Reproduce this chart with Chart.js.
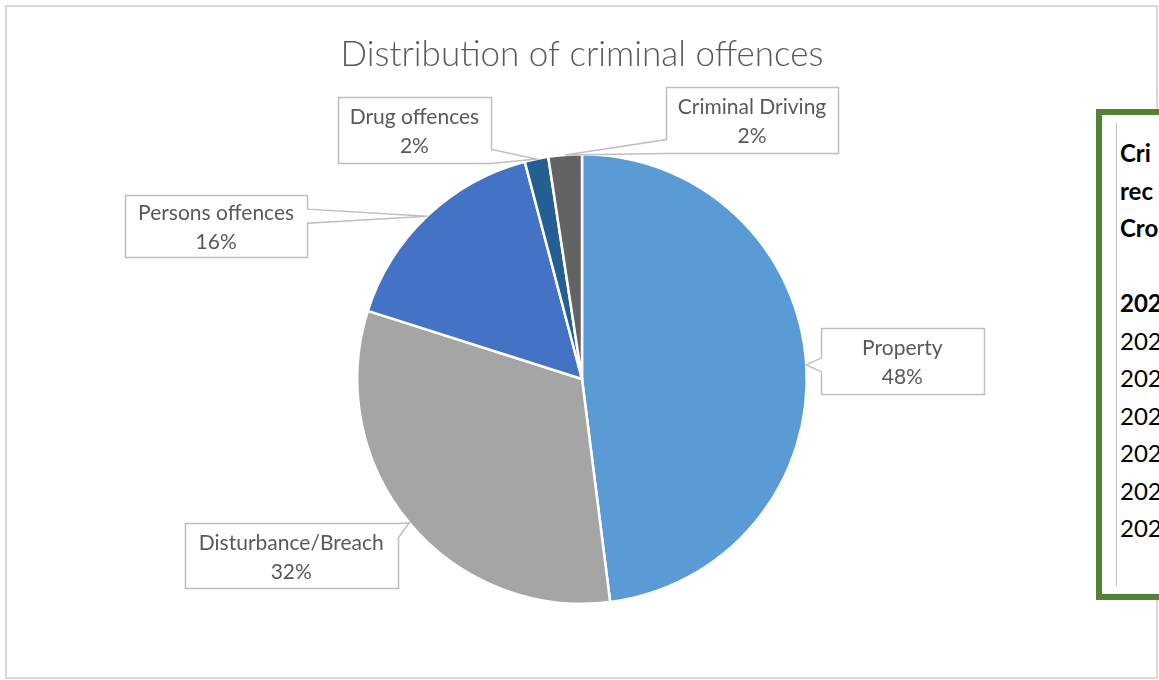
<!DOCTYPE html>
<html>
<head>
<meta charset="utf-8">
<script src="https://cdn.jsdelivr.net/npm/chart.js@4/dist/chart.umd.min.js"></script>
<style>
  html, body { margin: 0; padding: 0; background: #fff; overflow: hidden; width: 1159px; height: 680px; }
  #frame { position: absolute; left: 5px; top: 5px; width: 1153px; height: 674px; border: 2px solid #D9D9D9; box-sizing: border-box; }
  #myChart { position: absolute; left: 0; top: 0; }
  #sidebox { position: absolute; left: 1096px; top: 109px; width: 140px; height: 491px; border: 6px solid #548235; box-sizing: border-box; background: #fff; }
  #sidebox .inner { position: absolute; left: 14px; top: 8px; bottom: 8px; border-left: 1px solid #BFBFBF; padding-left: 3px; padding-top: 11px;
    font-family: Lato, "Open Sans", sans-serif; font-size: 24px; line-height: 37.5px; color: #000; white-space: nowrap; }
  #sidebox b { font-weight: 700; }
</style>
</head>
<body>
<div id="frame"></div>
<canvas id="myChart" width="1159" height="680"></canvas>
<div id="sidebox">
  <div class="inner">
    <b>Cri</b><br><b>rec</b><br><b>Cro</b><br>&nbsp;<br><b>202</b><br>202<br>202<br>202<br>202<br>202<br>202
  </div>
</div>
<script>
"use strict";

var categories = ["Property", "Disturbance/Breach", "Persons offences", "Drug offences", "Criminal Driving"];
var shares = [48.0, 31.9, 16.0, 1.7, 2.4];
var colours = ["#5B9BD5", "#A5A5A5", "#4472C4", "#255E91", "#636363"];

// callout boxes: offset of box centre from the slice edge point, and box size
var calloutBoxes = [
    { dx: 96, dy: -4, w: 163, h: 66 },
    { dx: -118, dy: 33, w: 213, h: 65 },
    { dx: -211, dy: 10, w: 182, h: 62 },
    { dx: -122, dy: -29, w: 153, h: 66 },
    { dx: 187, dy: -35, w: 172, h: 66 }
];

function clamp(v, lo, hi) {
    return Math.max(lo, Math.min(hi, v));
}

function calloutPath(ctx, x0, y0, x1, y1, tx, ty) {
    var half = 7;
    var side = tx > x1 ? "r" : (tx < x0 ? "l" : (ty < y0 ? "t" : "b"));
    var c;
    ctx.beginPath();
    ctx.moveTo(x0, y0);
    if (side === "t") {
        c = clamp(tx, x0 + half, x1 - half);
        ctx.lineTo(c - half, y0); ctx.lineTo(tx, ty); ctx.lineTo(c + half, y0);
    }
    ctx.lineTo(x1, y0);
    if (side === "r") {
        c = clamp(ty, y0 + half, y1 - half);
        ctx.lineTo(x1, c - half); ctx.lineTo(tx, ty); ctx.lineTo(x1, c + half);
    }
    ctx.lineTo(x1, y1);
    if (side === "b") {
        c = clamp(tx, x0 + half, x1 - half);
        ctx.lineTo(c + half, y1); ctx.lineTo(tx, ty); ctx.lineTo(c - half, y1);
    }
    ctx.lineTo(x0, y1);
    if (side === "l") {
        c = clamp(ty, y0 + half, y1 - half);
        ctx.lineTo(x0, c + half); ctx.lineTo(tx, ty); ctx.lineTo(x0, c - half);
    }
    ctx.closePath();
}

var calloutPlugin = {
    id: "callouts",
    afterDatasetsDraw: function(chart) {
        var ctx = chart.ctx;
        var meta = chart.getDatasetMeta(0);
        var values = chart.data.datasets[0].data;
        var total = values.reduce(function(a, b) { return a + b; }, 0);
        ctx.save();
        meta.data.forEach(function(arc, i) {
            var p = arc.getProps(["x", "y", "startAngle", "endAngle", "outerRadius"], true);
            var mid = (p.startAngle + p.endAngle) / 2;
            var ax = p.x + Math.cos(mid) * p.outerRadius;
            var ay = p.y + Math.sin(mid) * p.outerRadius;
            var b = calloutBoxes[i];
            var cx = ax + b.dx, cy = ay + b.dy;
            var x0 = Math.round(cx - b.w / 2) + 0.5, y0 = Math.round(cy - b.h / 2) + 0.5;
            calloutPath(ctx, x0, y0, x0 + b.w, y0 + b.h, ax, ay);
            ctx.fillStyle = "#FFFFFF";
            ctx.fill();
            ctx.lineWidth = 1.5;
            ctx.strokeStyle = "#BFBFBF";
            ctx.stroke();
            ctx.fillStyle = "#595959";
            ctx.font = "21px Lato, 'Open Sans', sans-serif";
            ctx.textAlign = "center";
            ctx.textBaseline = "middle";
            ctx.fillText(chart.data.labels[i], cx, cy - 13);
            ctx.fillText(Math.round(values[i] / total * 100) + "%", cx, cy + 16);
        });
        ctx.restore();
    }
};

var ctx = document.getElementById("myChart");
var myChart = new Chart(ctx, {
    type: "pie",
    data: {
        labels: categories,
        datasets: [
            {
                data: shares,
                backgroundColor: colours,
                borderColor: "#FFFFFF",
                borderWidth: 2.5
            }
        ]
    },
    options: {
        responsive: false,
        animation: false,
        layout: {
            padding: { top: 34, bottom: 75, left: 100, right: 95 }
        },
        plugins: {
            legend: { display: false },
            tooltip: { enabled: false },
            title: {
                display: true,
                text: "Distribution of criminal offences",
                color: "#595959",
                font: { family: "Lato, 'Open Sans', sans-serif", size: 35, weight: 300, lineHeight: 1.2 },
                padding: { top: 0, bottom: 77 }
            }
        }
    },
    plugins: [calloutPlugin]
});
</script>
</body>
</html>
